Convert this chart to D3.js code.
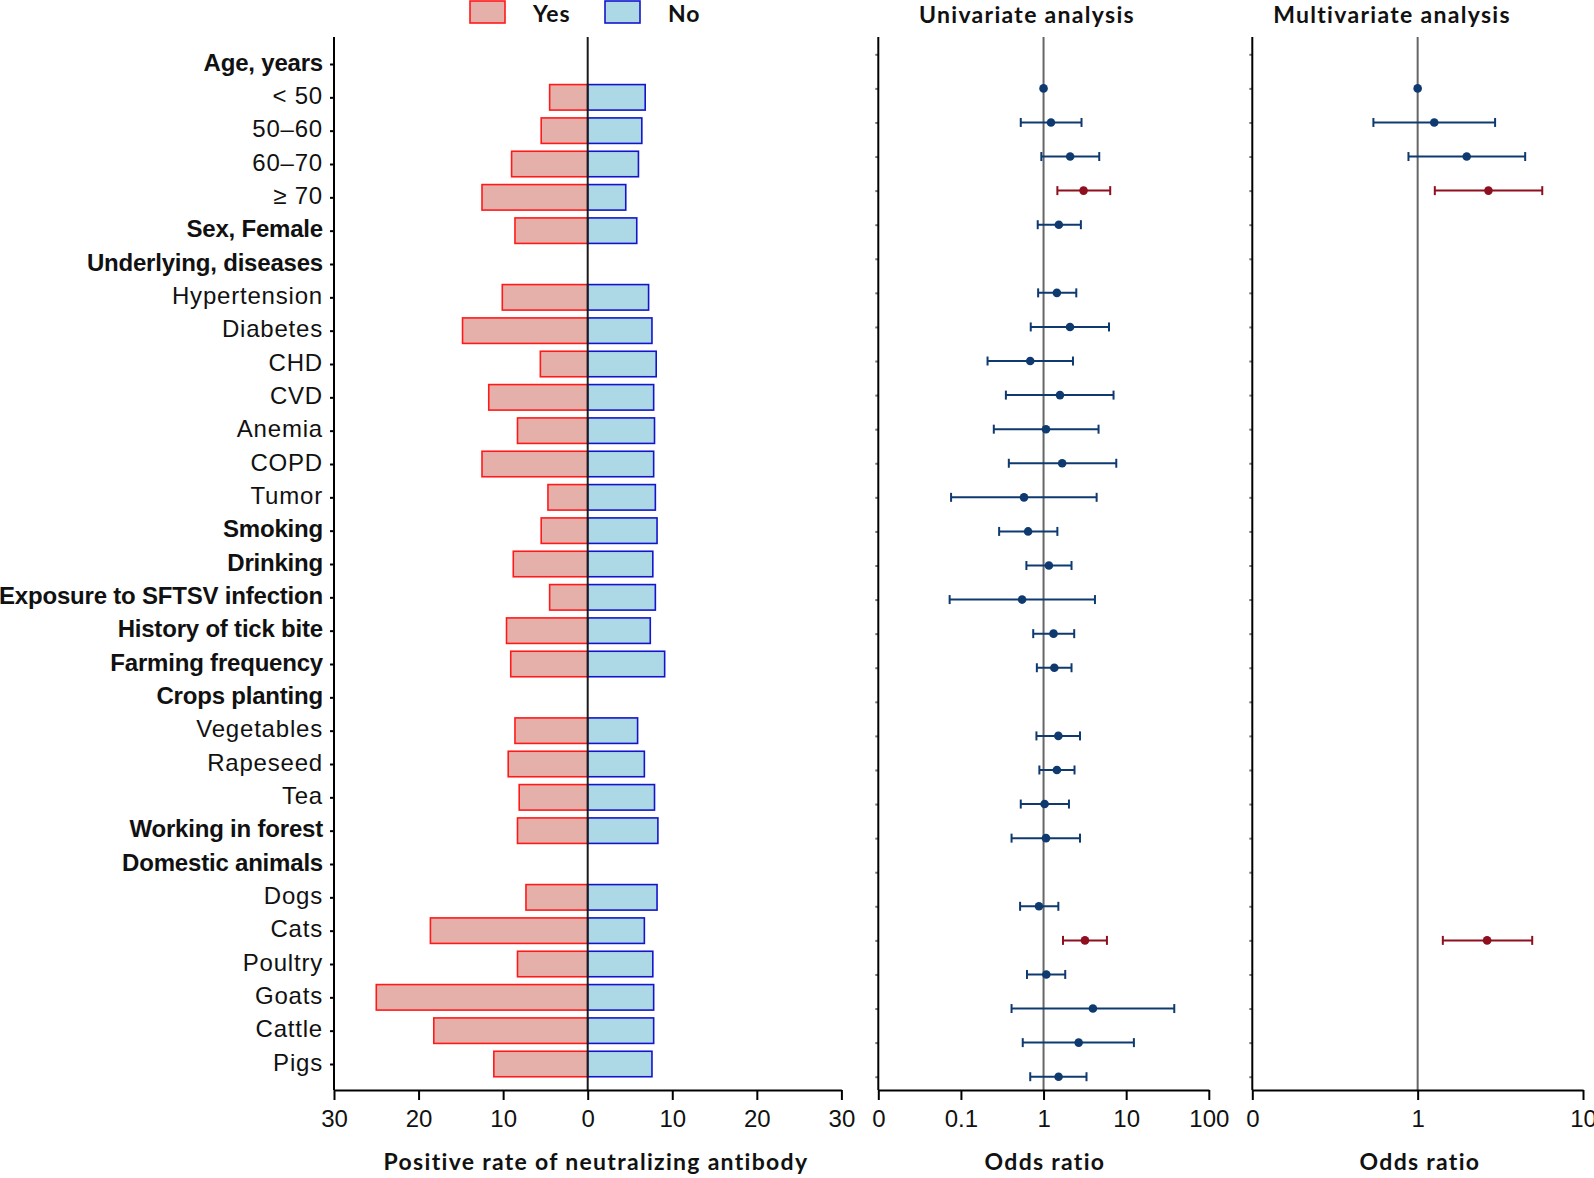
<!DOCTYPE html>
<html>
<head>
<meta charset="utf-8">
<script src="https://cdn.jsdelivr.net/npm/d3@7"></script>
<style>
  body { margin: 0; background: #fff; }
  svg { display: block; font-family: Lato, 'Open Sans', sans-serif; }
</style>
</head>
<body>
<div id="chart-area"></div>
<script>
/* Data */
const categories = [
  'Age, years', '< 50', '50–60', '60–70', '≥ 70', 'Sex, Female', 'Underlying, diseases',
  'Hypertension', 'Diabetes', 'CHD', 'CVD', 'Anemia', 'COPD', 'Tumor', 'Smoking', 'Drinking',
  'Exposure to SFTSV infection', 'History of tick bite', 'Farming frequency', 'Crops planting',
  'Vegetables', 'Rapeseed', 'Tea', 'Working in forest', 'Domestic animals',
  'Dogs', 'Cats', 'Poultry', 'Goats', 'Cattle', 'Pigs'
]
const boldRows = [
  'Age, years', 'Sex, Female', 'Underlying, diseases', 'Smoking', 'Drinking',
  'Exposure to SFTSV infection', 'History of tick bite', 'Farming frequency',
  'Crops planting', 'Working in forest', 'Domestic animals'
]

// positive rate (%) of neutralizing antibody, exposed (Yes) vs not (No)
const yesRate = [null, 4.5, 5.5, 9.0, 12.5, 8.6, null, 10.1, 14.8, 5.6, 11.7, 8.3, 12.5, 4.7, 5.5, 8.8,
  4.5, 9.6, 9.1, null, 8.6, 9.4, 8.1, 8.3, null, 7.3, 18.6, 8.3, 25.0, 18.2, 11.1]
const noRate = [null, 6.8, 6.4, 6.0, 4.5, 5.8, null, 7.2, 7.6, 8.1, 7.8, 7.9, 7.8, 8.0, 8.2, 7.7,
  8.0, 7.4, 9.1, null, 5.9, 6.7, 7.9, 8.3, null, 8.2, 6.7, 7.7, 7.8, 7.8, 7.6]

// univariate odds ratios with 95% CI
const uniOR = [null, 1, 1.23, 2.10, 3.05, 1.53, null, 1.45, 2.09, 0.69, 1.58, 1.07, 1.68, 0.58, 0.65, 1.16,
  0.55, 1.32, 1.35, null, 1.51, 1.45, 1.03, 1.07, null, 0.88, 3.17, 1.08, 3.96, 2.66, 1.52]
const uniLow = [null, null, 0.53, 0.94, 1.47, 0.85, null, 0.86, 0.70, 0.21, 0.35, 0.25, 0.38, 0.076, 0.29, 0.62,
  0.073, 0.75, 0.83, null, 0.82, 0.89, 0.53, 0.41, null, 0.52, 1.72, 0.63, 0.41, 0.56, 0.69]
const uniHigh = [null, null, 2.88, 4.72, 6.41, 2.83, null, 2.49, 6.2, 2.27, 7.03, 4.63, 7.59, 4.39, 1.47, 2.18,
  4.19, 2.35, 2.18, null, 2.76, 2.37, 2.03, 2.76, null, 1.51, 5.85, 1.83, 38.2, 12.4, 3.31]

// multivariate odds ratios
const multiRows = ['< 50', '50–60', '60–70', '≥ 70', 'Cats']
const multiOR = [1, 1.26, 1.98, 2.68, 2.63]
const multiLow = [null, 0.54, 0.88, 1.27, 1.42]
const multiHigh = [null, 2.94, 4.47, 5.67, 4.93]

const barTicks = [-30, -20, -10, 0, 10, 20, 30]
const uniTicks = [0.01, 0.1, 1, 10, 100]
const multiTicks = [0.1, 1, 10]

/* Colours */
const YES_FILL = '#e6b0aa', YES_STROKE = '#ff1a1a'
const NO_FILL = '#add8e6', NO_STROKE = '#1414cc'
const DOT_BLUE = '#0f3a70', DOT_RED = '#8e0f1e'

/* Canvas */
const CANVAS_WIDTH = 1594
const CANVAS_HEIGHT = 1178
const AXIS_TOP = 37
const AXIS_BOTTOM = 1090

const $svg = d3.select('#chart-area')
  .append('svg')
  .attr('width', CANVAS_WIDTH)
  .attr('height', CANVAS_HEIGHT)

/* Scales */
const xBar = d3.scaleLinear().domain([-30, 30]).range([334, 841.4])
const yBar = d3.scalePoint().domain(categories).range([64, 1064])
const xUni = d3.scaleLog().domain([0.01, 100]).range([878.3, 1208.8])
const xMulti = d3.scaleLog().domain([0.1, 10]).range([1252.3, 1583])
const yForest = d3.scalePoint().domain(categories).range([54.3, 1076.7])

const BAR_H = 25.5

/* Bar panel */
const $bars = $svg.append('g')

$bars.selectAll('rect.yes')
  .data(categories.map((c, i) => ({ c, v: yesRate[i] })).filter(d => d.v != null))
  .enter().append('rect')
  .attr('class', 'yes')
  .attr('x', d => xBar(-d.v))
  .attr('y', d => yBar(d.c) - BAR_H / 2)
  .attr('width', d => xBar(0) - xBar(-d.v))
  .attr('height', BAR_H)
  .attr('fill', YES_FILL)
  .attr('stroke', YES_STROKE)
  .attr('stroke-width', 1.6)

$bars.selectAll('rect.no')
  .data(categories.map((c, i) => ({ c, v: noRate[i] })).filter(d => d.v != null))
  .enter().append('rect')
  .attr('class', 'no')
  .attr('x', xBar(0))
  .attr('y', d => yBar(d.c) - BAR_H / 2)
  .attr('width', d => xBar(d.v) - xBar(0))
  .attr('height', BAR_H)
  .attr('fill', NO_FILL)
  .attr('stroke', NO_STROKE)
  .attr('stroke-width', 1.6)

// zero line
$bars.append('line')
  .attr('x1', xBar(0)).attr('x2', xBar(0))
  .attr('y1', AXIS_TOP).attr('y2', AXIS_BOTTOM)
  .attr('stroke', '#1a1a1a')
  .attr('stroke-width', 2)

// y axis with category labels
const $yAxis = $svg.append('g')
  .attr('transform', `translate(${xBar(-30)}, 0)`)
  .call(d3.axisLeft(yBar).tickSize(4).tickPadding(7))
$yAxis.select('.domain').remove()
$yAxis.selectAll('text')
  .attr('font-size', 24)
  .attr('font-family', null)
  .attr('dy', '0.26em')
  .attr('fill', '#111')
  .attr('font-weight', d => boldRows.includes(d) ? 700 : 400)
  .attr('letter-spacing', d => boldRows.includes(d) ? -0.2 : 0.8)
$svg.append('line')
  .attr('x1', xBar(-30)).attr('x2', xBar(-30))
  .attr('y1', AXIS_TOP).attr('y2', AXIS_BOTTOM)
  .attr('stroke', '#000').attr('stroke-width', 2)

// x axis
$svg.append('g')
  .attr('transform', `translate(0, ${AXIS_BOTTOM})`)
  .call(d3.axisBottom(xBar).tickValues(barTicks).tickFormat(d => Math.abs(d)).tickSize(10).tickSizeOuter(0).tickPadding(10))

/* Forest panels */
function forestPanel(x, rows, or, low, high, ticks) {
  const $g = $svg.append('g')

  // reference line at OR = 1
  $g.append('line')
    .attr('x1', x(1)).attr('x2', x(1))
    .attr('y1', AXIS_TOP).attr('y2', AXIS_BOTTOM)
    .attr('stroke', '#666').attr('stroke-width', 2)

  const data = rows.map((c, i) => ({ c, or: or[i], low: low[i], high: high[i] }))
    .filter(d => d.or != null)
  const colour = d => d.low != null && d.low > 1 ? DOT_RED : DOT_BLUE

  const $ci = $g.selectAll('g.ci')
    .data(data.filter(d => d.low != null))
    .enter().append('g')
    .attr('class', 'ci')
    .attr('stroke', colour)
    .attr('stroke-width', 2)

  $ci.append('line')
    .attr('x1', d => x(d.low)).attr('x2', d => x(d.high))
    .attr('y1', d => yForest(d.c)).attr('y2', d => yForest(d.c))
  $ci.append('line')
    .attr('x1', d => x(d.low)).attr('x2', d => x(d.low))
    .attr('y1', d => yForest(d.c) - 4.5).attr('y2', d => yForest(d.c) + 4.5)
  $ci.append('line')
    .attr('x1', d => x(d.high)).attr('x2', d => x(d.high))
    .attr('y1', d => yForest(d.c) - 4.5).attr('y2', d => yForest(d.c) + 4.5)

  $g.selectAll('circle')
    .data(data)
    .enter().append('circle')
    .attr('cx', d => x(d.or))
    .attr('cy', d => yForest(d.c))
    .attr('r', 4.3)
    .attr('fill', colour)

  // left axis
  const $left = $svg.append('g')
    .attr('transform', `translate(${x.range()[0]}, 0)`)
    .call(d3.axisLeft(yForest).tickSize(3).tickFormat(''))
  $left.select('.domain').remove()
  $left.selectAll('line').attr('stroke', '#777')
  $svg.append('line')
    .attr('x1', x.range()[0]).attr('x2', x.range()[0])
    .attr('y1', AXIS_TOP).attr('y2', AXIS_BOTTOM)
    .attr('stroke', '#000').attr('stroke-width', 2)

  // bottom axis
  $svg.append('g')
    .attr('transform', `translate(0, ${AXIS_BOTTOM})`)
    .call(d3.axisBottom(x).tickValues(ticks)
      .tickFormat(d => d === ticks[0] ? '0' : String(d))
      .tickSize(10).tickSizeOuter(0).tickPadding(10))
}

forestPanel(xUni, categories, uniOR, uniLow, uniHigh, uniTicks)
forestPanel(xMulti, multiRows, multiOR, multiLow, multiHigh, multiTicks)

// axis styling
$svg.selectAll('.tick line').attr('stroke-width', 2)
$svg.selectAll('.domain').attr('stroke-width', 2)
$svg.selectAll('g.tick text')
  .filter(function () { return this.parentNode.parentNode !== $yAxis.node() })
  .attr('font-size', 24)
  .attr('font-family', null)
  .attr('fill', '#111')

/* Titles & labels */
const titles = [
  { text: 'Univariate analysis', x: 1027, y: 23 },
  { text: 'Multivariate analysis', x: 1392, y: 23 },
  { text: 'Positive rate of neutralizing antibody', x: 596, y: 1170 },
  { text: 'Odds ratio', x: 1045, y: 1170 },
  { text: 'Odds ratio', x: 1420, y: 1170 }
]
$svg.selectAll('text.title')
  .data(titles)
  .enter().append('text')
  .attr('class', 'title')
  .attr('x', d => d.x)
  .attr('y', d => d.y)
  .attr('text-anchor', 'middle')
  .attr('font-size', 23)
  .attr('font-weight', 700)
  .attr('letter-spacing', 1.3)
  .attr('fill', '#111')
  .text(d => d.text)

/* Legend */
const legend = [
  { label: 'Yes', fill: YES_FILL, stroke: YES_STROKE, x: 470 },
  { label: 'No', fill: NO_FILL, stroke: NO_STROKE, x: 605 }
]
const $legend = $svg.selectAll('g.legend')
  .data(legend)
  .enter().append('g')
  .attr('class', 'legend')
  .attr('transform', d => `translate(${d.x}, 1)`)
$legend.append('rect')
  .attr('width', 35)
  .attr('height', 22)
  .attr('fill', d => d.fill)
  .attr('stroke', d => d.stroke)
  .attr('stroke-width', 1.6)
$legend.append('text')
  .attr('x', 63)
  .attr('y', 21)
  .attr('font-size', 23)
  .attr('font-weight', 700)
  .attr('letter-spacing', 1)
  .attr('fill', '#111')
  .text(d => d.label)
</script>
</body>
</html>
